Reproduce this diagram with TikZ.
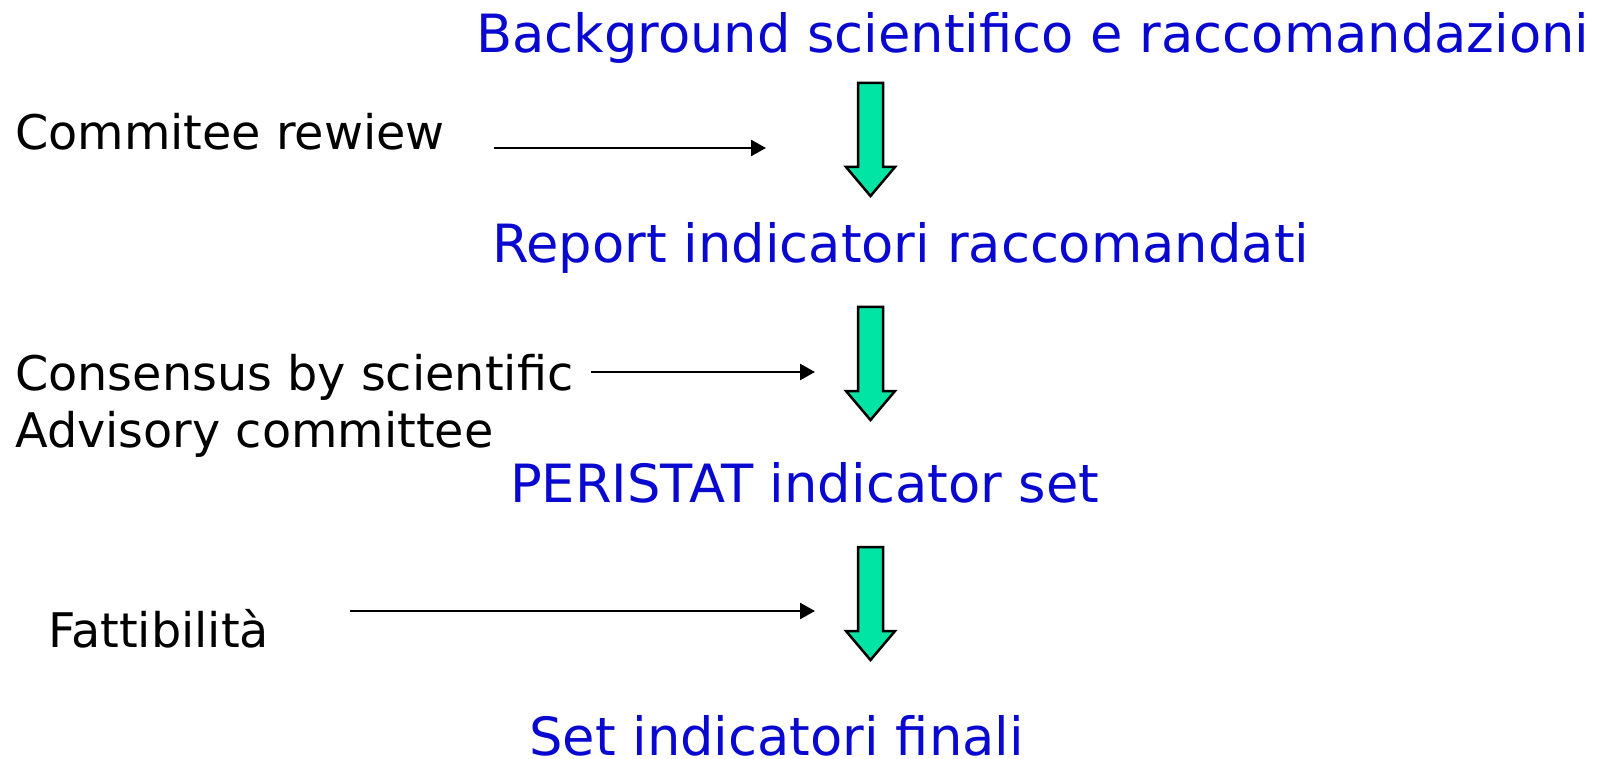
\documentclass[tikz,border=0pt]{standalone}
\usepackage{fontspec}
\setmainfont{DejaVu Sans}
\usetikzlibrary{arrows.meta}
\definecolor{stepblue}{RGB}{8,8,208}
\definecolor{stepgreen}{RGB}{0,228,164}
\tikzset{
  titletext/.style={anchor=base west, inner sep=0pt, text=stepblue, font=\fontsize{52.7}{60}\selectfont},
  sidetext/.style={anchor=base west, inner sep=0pt, text=black, align=left, font=\fontsize{47.7}{57}\selectfont},
  thinarrow/.style={draw=black, line width=2.5pt, -{Triangle[length=15pt,width=16pt]}},
  bigarrow/.pic={\draw[fill=stepgreen, draw=black, line width=2.5pt, line join=miter]
     (-12.5,0) -- (12.5,0) -- (12.5,84) -- (24.5,84) -- (0,113) -- (-24.5,84) -- (-12.5,84) -- cycle;}
}
\begin{document}
\begin{tikzpicture}[x=1pt,y=-1pt]
\useasboundingbox (0,0) rectangle (1598,759);
\node[titletext] (bg) at (476,53) {Background scientifico e raccomandazioni};
\node[titletext] (rep) at (492,263) {Report indicatori raccomandati};
\node[titletext] (per) at (510,502) {PERISTAT indicator set};
\node[titletext] (fin) at (529,755) {Set indicatori finali};
\pic at (870.5,83) {bigarrow};
\pic at (870.5,307) {bigarrow};
\pic at (870.5,547) {bigarrow};
\node[sidetext] (cr) at (15,150) {Commitee rewiew};
\node[sidetext] (cs) at (15,447) {Consensus by scientific\\Advisory committee};
\node[sidetext] (fa) at (48,647) {Fattibilità};
\coordinate (a1s) at (494,148);
\coordinate (a1e) at (766,148);
\coordinate (a2s) at (591,372);
\coordinate (a2e) at (815,372);
\coordinate (a3s) at (350,611);
\coordinate (a3e) at (815,611);
\draw[thinarrow] (a1s) -- (a1e);
\draw[thinarrow] (a2s) -- (a2e);
\draw[thinarrow] (a3s) -- (a3e);
\end{tikzpicture}
\end{document}
